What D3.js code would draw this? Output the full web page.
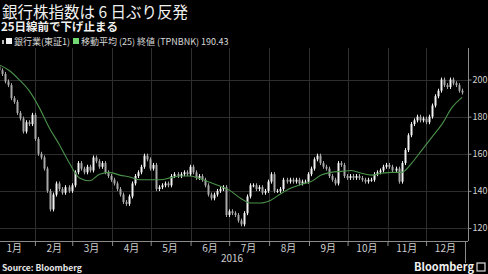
<!DOCTYPE html>
<html>
<head>
<meta charset="utf-8">
<script src="https://cdn.jsdelivr.net/npm/d3@7"></script>
<style>
  body { margin: 0; background: #000; }
  svg { display: block; }
  text { font-family: "Noto Sans CJK JP", "Noto Sans", sans-serif; }
</style>
</head>
<body>
<svg id="chart" width="488" height="274"></svg>
<script>
// daily closes of the bank index, first candle Jan 4, last Dec 29
var closes = [205, 203, 199, 197, 190, 188, 182, 179, 172, 177, 176, 181, 168, 160, 158, 152,
  140, 130, 138, 144, 141, 139, 142, 140, 143, 150, 155, 152, 150, 153, 151, 158,
  156, 153, 155, 150, 148, 146, 144, 141, 138, 134, 133, 137, 144, 148, 150, 153,
  159, 157, 152, 154, 141, 142, 143, 144, 143, 148, 149, 148, 149, 150, 149, 153,
  150, 147, 148, 146, 143, 138, 136, 138, 140, 141, 142, 127, 129, 128, 127, 124,
  122, 128, 137, 143, 143, 141, 142, 139, 140, 145, 149, 140, 140, 141, 146, 145,
  146, 145, 146, 144, 145, 145, 149, 152, 157, 159, 155, 153, 152, 148, 146, 144,
  155, 154, 148, 147, 148, 147, 148, 147, 146, 145, 146, 146, 149, 150, 151, 153,
  154, 153, 151, 152, 145, 155, 162, 170, 176, 178, 180, 178, 179, 177, 180, 186,
  191, 194, 200, 197, 196, 200, 198, 197, 194, 193];
var firstOpen = 207;

// 25-day moving average, sampled evenly over the same span
var movingAvg = [208, 205, 200, 194, 185, 174, 165, 155, 147, 145.5, 149, 150, 148.5, 147.5,
  146, 146, 146, 147, 148, 148, 146.5, 144.5, 142.5, 140, 136, 133.5, 133.5, 135, 138.5,
  141.5, 143.5, 145, 148.5, 150, 150.5, 151, 149.5, 148.5, 149.5, 150, 150, 155, 162,
  169, 176, 185, 190.43];

var months = ["1月", "2月", "3月", "4月", "5月", "6月", "7月", "8月", "9月", "10月", "11月", "12月"];
var yTicks = [120, 140, 160, 180, 200];

var title = "銀行株指数は 6 日ぶり反発";
var subtitle = "25日線前で下げ止まる";
var legend1 = "銀行業(東証1)";
var legend2 = "移動平均 (25) 終値 (TPNBNK) 190.43";

var svg = d3.select("#chart");
var W = 488, H = 274;
var plotLeft = 0, plotRight = 468, plotTop = 48, plotBottom = 241;

svg.append("rect").attr("width", W).attr("height", H).attr("fill", "#000");

var start = new Date(2016, 0, 4), end = new Date(2016, 11, 29);
function spread(n, i) { return new Date(+start + i * (end - start) / (n - 1)); }

var x = d3.scaleTime()
  .domain([new Date(2016, 0, 1), new Date(2017, 0, 1)])
  .range([-5, 466]);
var y = d3.scaleLinear().domain([113, 217]).range([plotBottom, plotTop]);

var monthStarts = d3.timeMonth.range(new Date(2016, 1, 1), new Date(2017, 0, 1));

// grid
var grid = svg.append("g").attr("stroke", "#2e2e2e").attr("stroke-width", 1);
grid.selectAll(".hg").data(yTicks).enter().append("line")
  .attr("x1", plotLeft).attr("x2", plotRight)
  .attr("y1", function(d) { return Math.round(y(d)) + 0.5; })
  .attr("y2", function(d) { return Math.round(y(d)) + 0.5; });
grid.selectAll(".vg").data(monthStarts).enter().append("line")
  .attr("y1", plotTop).attr("y2", plotBottom)
  .attr("x1", function(d) { return Math.round(x(d)) + 0.5; })
  .attr("x2", function(d) { return Math.round(x(d)) + 0.5; });

// candles
var candles = closes.map(function(c, i) {
  return { date: spread(closes.length, i), open: i ? closes[i - 1] : firstOpen, close: c };
});
var cg = svg.append("g");
candles.forEach(function(d) {
  var cx = Math.round(x(d.date));
  var yt = y(Math.max(d.open, d.close)), yb = y(Math.min(d.open, d.close));
  var col = d.close >= d.open ? "#f2f2f2" : "#a8a8a8";
  cg.append("line")
    .attr("x1", cx + 0.5).attr("x2", cx + 0.5)
    .attr("y1", yt - 2).attr("y2", yb + 2)
    .attr("stroke", col).attr("stroke-width", 1);
  cg.append("rect")
    .attr("x", cx - 0.5).attr("width", 2)
    .attr("y", yt).attr("height", Math.max(1, yb - yt))
    .attr("fill", col);
});

// moving average
var line = d3.line()
  .x(function(d, i) { return x(spread(movingAvg.length, i)); })
  .y(function(d) { return y(d); })
  .curve(d3.curveMonotoneX);
svg.append("path").datum(movingAvg)
  .attr("d", line)
  .attr("fill", "none")
  .attr("stroke", "#4a924a")
  .attr("stroke-width", 1.1);

// bottom axis
var xAxis = d3.axisBottom(x).tickValues(monthStarts).tickSize(5).tickFormat("");
var gx = svg.append("g").attr("transform", "translate(0," + plotBottom + ")").call(xAxis);
gx.select(".domain").attr("stroke", "#8a8a8a").attr("d", "M0,0.5H" + plotRight);
gx.selectAll(".tick line").attr("stroke", "#8a8a8a");

svg.append("g").selectAll("text").data(months).enter().append("text")
  .attr("x", function(d, i) { return x(new Date(2016, i, 16)); })
  .attr("y", 252)
  .attr("text-anchor", "middle")
  .attr("fill", "#cfcfcf")
  .attr("font-size", 10)
  .text(function(d) { return d; });

svg.append("line")
  .attr("x1", Math.round(x(new Date(2017, 0, 1))) - 0.5)
  .attr("x2", Math.round(x(new Date(2017, 0, 1))) - 0.5)
  .attr("y1", plotBottom).attr("y2", 263)
  .attr("stroke", "#8a8a8a");
svg.append("text").attr("x", 232).attr("y", 262)
  .attr("text-anchor", "middle").attr("fill", "#cfcfcf").attr("font-size", 10)
  .text("2016");

// right axis
var yAxis = d3.axisRight(y).tickValues(yTicks).tickSize(3).tickPadding(1);
var gy = svg.append("g").attr("transform", "translate(" + (plotRight + 0.5) + ",0)").call(yAxis);
gy.select(".domain").attr("stroke", "#8a8a8a").attr("d", "M0," + plotTop + "V" + plotBottom);
gy.selectAll(".tick line").attr("stroke", "#8a8a8a");
gy.selectAll(".tick text").attr("fill", "#cfcfcf").attr("font-size", 9)
  .attr("font-family", "'Noto Sans CJK JP', sans-serif");

// titles
svg.append("text").attr("x", 2).attr("y", 17.5).attr("fill", "#f0f0f0")
  .attr("font-size", 15.5).text(title);
svg.append("text").attr("x", 1).attr("y", 31).attr("fill", "#f0f0f0")
  .attr("font-size", 11.5).attr("font-weight", "bold").text(subtitle);

// legend
svg.append("rect").attr("x", 2).attr("y", 40).attr("width", 2).attr("height", 4).attr("fill", "#bbb");
svg.append("rect").attr("x", 6).attr("y", 38).attr("width", 6).attr("height", 6).attr("fill", "#f2f2f2");
svg.append("text").attr("x", 14).attr("y", 45).attr("fill", "#d8d8d8")
  .attr("font-size", 9).text(legend1);
svg.append("rect").attr("x", 73).attr("y", 38).attr("width", 6).attr("height", 6).attr("fill", "#72d872");
svg.append("text").attr("x", 81).attr("y", 45).attr("fill", "#d8d8d8")
  .attr("font-size", 9).text(legend2);

// footer
svg.append("text").attr("x", 2).attr("y", 271).attr("fill", "#e8e8e8")
  .attr("font-size", 8.5).attr("font-weight", "bold")
  .attr("font-family", "'DejaVu Sans', sans-serif").text("Source: Bloomberg");
svg.append("text").attr("x", 474).attr("y", 271).attr("fill", "#f0f0f0")
  .attr("font-size", 11).attr("text-anchor", "end")
  .attr("font-family", "'Open Sans', sans-serif").attr("font-weight", 600).text("Bloomberg");
svg.append("rect").attr("x", 477).attr("y", 263).attr("width", 8).attr("height", 8)
  .attr("fill", "none").attr("stroke", "#dcdcdc").attr("stroke-width", 1.2);
</script>
</body>
</html>
